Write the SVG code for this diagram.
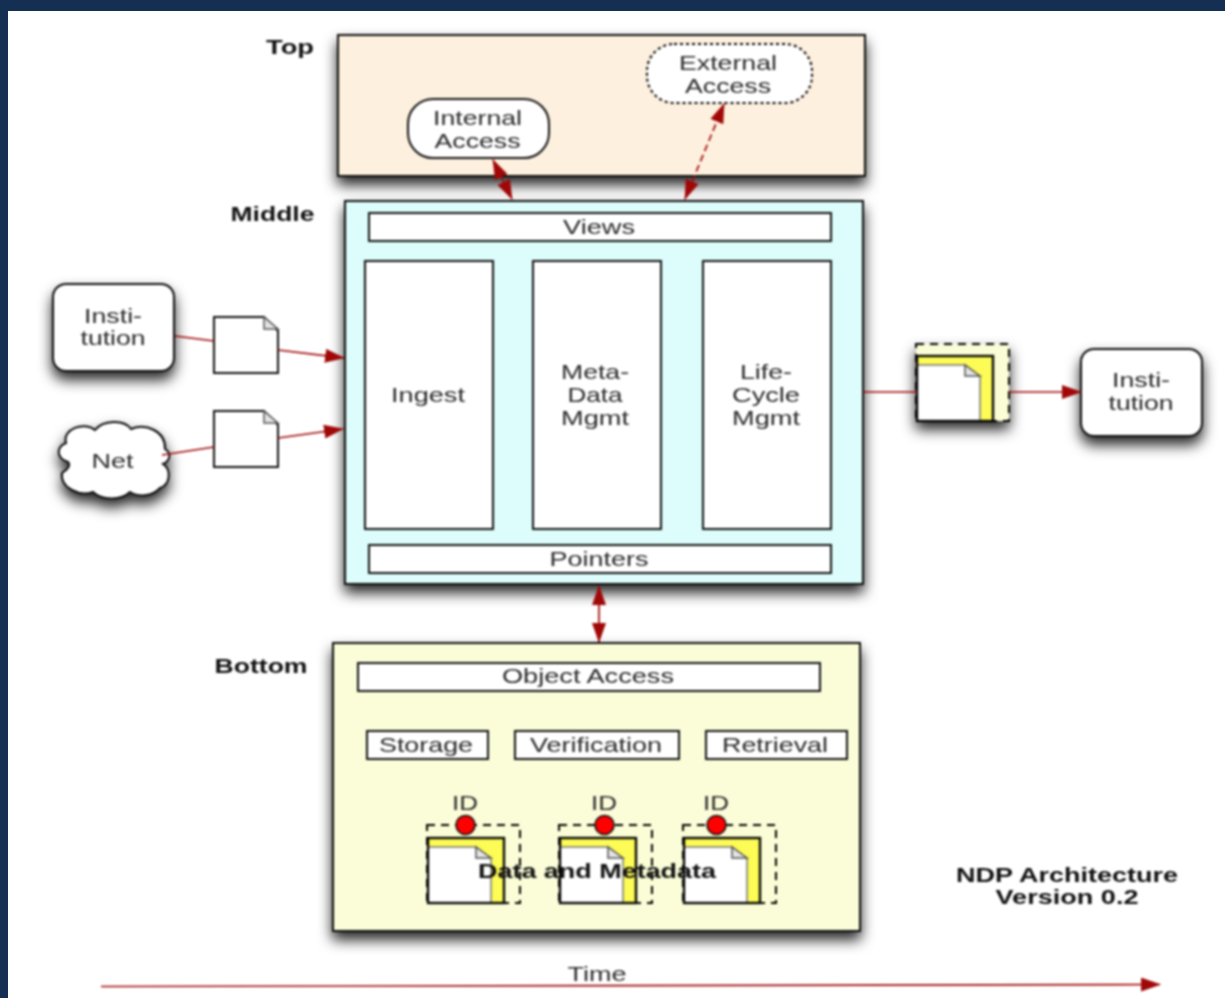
<svg xmlns="http://www.w3.org/2000/svg" width="1225" height="998" viewBox="0 0 1225 998">
<style>
text{font-family:"Liberation Sans",Arial,sans-serif;font-size:21px;fill:#2a2a2a;text-anchor:middle}
.b{font-weight:bold;fill:#111;font-size:21px}
.box{stroke:#111;stroke-width:2}
.w{fill:#fff}
.dash{fill:#fbfdd6;stroke:#000;stroke-width:2;stroke-dasharray:8 6}
.doc{fill:#fff;stroke:#111;stroke-width:2}
.fold{fill:#e4e4e4;stroke:#555;stroke-width:1.5}
.yl{fill:#fdfb55}
.edge{fill:none;stroke:#000;stroke-width:2.300}
.inner{stroke:#777;stroke-width:1.500}
.c{fill:none;stroke:#a00808;stroke-width:1.700}
.id{fill:#f00;stroke:#111;stroke-width:1.600}
</style>
<defs>
<filter id="sh" x="-50%" y="-50%" width="200%" height="200%"><feDropShadow dx="0" dy="8" stdDeviation="7" flood-color="#000" flood-opacity=".85"/></filter>
<filter id="soft" filterUnits="userSpaceOnUse" x="0" y="0" width="1225" height="998" color-interpolation-filters="sRGB"><feGaussianBlur stdDeviation="0.8"/></filter>
<marker id="ah" viewBox="0 0 20 14" refX="19" refY="7" markerWidth="20" markerHeight="14" markerUnits="userSpaceOnUse" orient="auto-start-reverse"><path d="M0 0L20 7L0 14Z" fill="#a00808"/></marker>
<path id="d" d="M0 0H50L64 14V56H0Z"/>
</defs>
<rect width="1225" height="998" fill="#152f52"/>
<rect x="8" y="11" width="1217" height="987" fill="#fff"/>
<g filter="url(#soft)">
<g id="top">
<rect class="box" x="338" y="35" width="527" height="141" fill="#fdf0de" filter="url(#sh)"/>
<text class="b" x="290" y="54" textLength="48" lengthAdjust="spacingAndGlyphs">Top</text>
</g>
<g id="internal-access">
<rect class="box w" x="408" y="99" width="141" height="59" rx="25"/>
<text x="477.500" y="125" textLength="89" lengthAdjust="spacingAndGlyphs">Internal</text>
<text x="477.500" y="148" textLength="86" lengthAdjust="spacingAndGlyphs">Access</text>
</g>
<g id="external-access">
<rect class="w" x="647" y="44" width="165" height="59" rx="27" stroke="#000" stroke-width="2" stroke-dasharray="3 3"/>
<text x="728" y="70" textLength="98" lengthAdjust="spacingAndGlyphs">External</text>
<text x="728" y="93" textLength="86" lengthAdjust="spacingAndGlyphs">Access</text>
</g>
<g id="middle">
<rect class="box" x="345" y="201" width="518" height="383" fill="#dcfdfb" filter="url(#sh)"/>
<text class="b" x="272.500" y="221" textLength="84" lengthAdjust="spacingAndGlyphs">Middle</text>
</g>
<g id="views"><rect class="box w" x="369" y="213" width="462" height="28"/><text x="599" y="234" textLength="72" lengthAdjust="spacingAndGlyphs">Views</text></g>
<g id="ingest"><rect class="box w" x="365" y="261" width="128" height="268"/><text x="428" y="402" textLength="74" lengthAdjust="spacingAndGlyphs">Ingest</text></g>
<g id="metadata"><rect class="box w" x="533" y="261" width="128" height="268"/><text x="595" y="379" textLength="68" lengthAdjust="spacingAndGlyphs">Meta-</text><text x="595" y="402" textLength="55" lengthAdjust="spacingAndGlyphs">Data</text><text x="595" y="425" textLength="68" lengthAdjust="spacingAndGlyphs">Mgmt</text></g>
<g id="lifecycle"><rect class="box w" x="703" y="261" width="128" height="268"/><text x="766" y="379" textLength="52" lengthAdjust="spacingAndGlyphs">Life-</text><text x="766" y="402" textLength="68" lengthAdjust="spacingAndGlyphs">Cycle</text><text x="766" y="425" textLength="68" lengthAdjust="spacingAndGlyphs">Mgmt</text></g>
<g id="pointers"><rect class="box w" x="369" y="545" width="462" height="28"/><text x="599" y="566" textLength="99" lengthAdjust="spacingAndGlyphs">Pointers</text></g>
<g id="bottom">
<rect class="box" x="333" y="643" width="527" height="288" fill="#fbfdd9" filter="url(#sh)"/>
<text class="b" x="261" y="673" textLength="93" lengthAdjust="spacingAndGlyphs">Bottom</text>
</g>
<g id="object-access"><rect class="box w" x="358" y="663" width="462" height="28"/><text x="588" y="683" textLength="172" lengthAdjust="spacingAndGlyphs">Object Access</text></g>
<g id="storage"><rect class="box w" x="367" y="731" width="121" height="28"/><text x="426" y="752" textLength="94" lengthAdjust="spacingAndGlyphs">Storage</text></g>
<g id="verification"><rect class="box w" x="515" y="731" width="164" height="28"/><text x="596" y="752" textLength="132" lengthAdjust="spacingAndGlyphs">Verification</text></g>
<g id="retrieval"><rect class="box w" x="706" y="731" width="141" height="28"/><text x="775" y="752" textLength="106" lengthAdjust="spacingAndGlyphs">Retrieval</text></g>
<g id="object-1">
<rect class="dash" x="427" y="825" width="93" height="78"/>
<rect class="yl" x="428" y="838" width="76" height="65"/>
<path class="w inner" d="M428 847H476L491 859V903H428Z"/><path class="fold" d="M476 847V858H491Z"/>
<rect class="edge" x="428" y="838" width="76" height="65"/>
<circle class="id" cx="465.500" cy="825" r="9.500"/>
<text x="465" y="810" textLength="26" lengthAdjust="spacingAndGlyphs">ID</text>
</g>
<g id="object-2">
<rect class="dash" x="559" y="825" width="93" height="78"/>
<rect class="yl" x="560" y="838" width="76" height="65"/>
<path class="w inner" d="M560 847H608L623 859V903H560Z"/><path class="fold" d="M608 847V858H623Z"/>
<rect class="edge" x="560" y="838" width="76" height="65"/>
<circle class="id" cx="604.500" cy="825" r="9.500"/>
<text x="604" y="810" textLength="26" lengthAdjust="spacingAndGlyphs">ID</text>
</g>
<g id="object-3">
<rect class="dash" x="683" y="825" width="93" height="78"/>
<rect class="yl" x="684" y="838" width="76" height="65"/>
<path class="w inner" d="M684 847H732L747 859V903H684Z"/><path class="fold" d="M732 847V858H747Z"/>
<rect class="edge" x="684" y="838" width="76" height="65"/>
<circle class="id" cx="716.500" cy="825" r="9.500"/>
<text x="716" y="810" textLength="26" lengthAdjust="spacingAndGlyphs">ID</text>
</g>
<text class="b" x="597" y="878" textLength="238" lengthAdjust="spacingAndGlyphs">Data and Metadata</text>
<g id="institution-left"><rect class="box w" x="53" y="284" width="121" height="87" rx="13" filter="url(#sh)"/><text x="113" y="323" textLength="58" lengthAdjust="spacingAndGlyphs">Insti-</text><text x="113" y="345" textLength="65" lengthAdjust="spacingAndGlyphs">tution</text></g>
<g id="net"><path class="box w" filter="url(#sh)" d="M66 443C62 429 84 421 95 430C103 420 124 419 131 429C146 423 166 431 165 449C172 453 170 461 163 464C172 470 170 485 160 488C152 497 138 497 130 492C121 501 101 500 93 492C80 497 60 488 62 473C70 468 70 464 68 462C56 458 56 447 66 443Z"/><text x="112.500" y="468" textLength="42" lengthAdjust="spacingAndGlyphs">Net</text></g>
<g id="doc-1" transform="translate(214 317)"><use href="#d" class="doc"/><path class="fold" d="M50 0V12H64Z"/></g>
<g id="doc-2" transform="translate(214 411)"><use href="#d" class="doc"/><path class="fold" d="M50 0V12H64Z"/></g>
<g id="archive">
<rect class="dash" x="916" y="344" width="93" height="77" filter="url(#sh)"/>
<rect class="yl" x="917" y="356" width="76" height="65"/>
<path class="w inner" d="M917 365H965L980 377V421H917Z"/><path class="fold" d="M965 365V376H980Z"/>
<rect class="edge" x="917" y="356" width="76" height="65"/>
</g>
<g id="institution-right"><rect class="box w" x="1081" y="349" width="121" height="87" rx="13" filter="url(#sh)"/><text x="1141" y="387" textLength="58" lengthAdjust="spacingAndGlyphs">Insti-</text><text x="1141" y="410" textLength="65" lengthAdjust="spacingAndGlyphs">tution</text></g>
<g id="connectors">
<path class="c" d="M493 160L512 199" marker-start="url(#ah)" marker-end="url(#ah)"/>
<path class="c" stroke-dasharray="7 4" d="M724 104L685 199" marker-start="url(#ah)" marker-end="url(#ah)"/>
<path class="c" d="M175 336L214 341"/>
<path class="c" d="M278 350L344 358" marker-end="url(#ah)"/>
<path class="c" d="M162 455L214 447"/>
<path class="c" d="M278 438L343 429" marker-end="url(#ah)"/>
<path class="c" d="M863 392H917"/>
<path class="c" d="M1009 392H1081" marker-end="url(#ah)"/>
<path class="c" d="M599 586V642" marker-start="url(#ah)" marker-end="url(#ah)"/>
<path class="c" d="M101 986.500L1160 984.500" marker-end="url(#ah)"/>
</g>
<text x="597" y="981" textLength="59" lengthAdjust="spacingAndGlyphs">Time</text>
<text class="b" x="1067" y="882" textLength="222" lengthAdjust="spacingAndGlyphs">NDP Architecture</text>
<text class="b" x="1067" y="904" textLength="143" lengthAdjust="spacingAndGlyphs">Version 0.2</text>
</g>
</svg>
